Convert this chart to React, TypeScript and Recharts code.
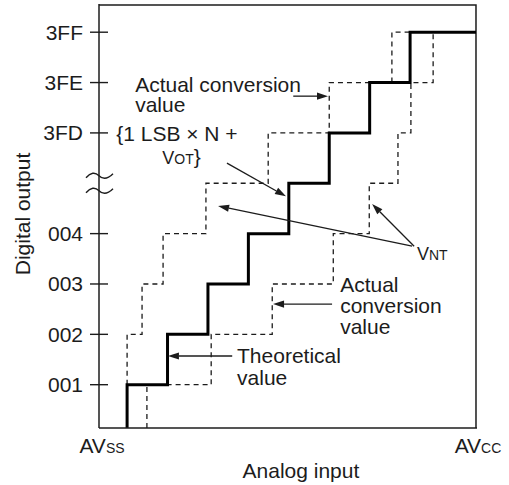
import React from 'react'
import {
  LineChart, Line, XAxis, YAxis, ReferenceLine, ReferenceDot,
} from 'recharts'

// axis domains (analog input in LSB steps, digital output in code steps),
// a hair wider than the frame so the frame edges sit inside the plot
const xDomain = [0.305, 9.655]
const yDomain = [0.14, 8.56]
const breakLevel = 5

// frame box edges
const frameRight = 9.63
const frameTop = 8.54

// y axis codes
const codeLevels = [1, 2, 3, 4, 6, 7, 8]
const codeLabels = ['001', '002', '003', '004', '3FD', '3FE', '3FF']

// x axis end labels
const inputTicks = [0.33, 9.63]
const inputMain = ['AV', 'AV']
const inputSub = ['SS', 'CC']

// theoretical transfer curve (solid)
const theoreticalX = [1, 1, 2, 3, 4, 5, 6, 7, 8, 9.63]
const theoreticalY = [0.14, 1, 2, 3, 4, 5, 6, 7, 8, 8]

// actual conversion, early side (dashed, upper left)
const earlyX = [1, 1, 1.37, 1.89, 2.95, 4.49, 6.0, 7.55, 8.0]
const earlyY = [1, 2, 3, 4, 5, 6, 7, 8, 8]

// actual conversion, late side (dashed, lower right)
const lateX = [1.49, 1.49, 3.08, 4.59, 6.1, 6.99, 7.7, 8.02, 8.57]
const lateY = [0.14, 1, 2, 3, 4, 5, 6, 7, 8]

// top and right edges of the frame (left/bottom are the axis lines)
const frameX = [xDomain[0], frameRight, frameRight]
const frameY = [frameTop, frameTop, yDomain[0]]

const FONT = '"Liberation Sans", Arial, Helvetica, sans-serif'
const INK = '#1c1c1c'
const FS = 21
const SUB = 14
const frameLine = { stroke: INK, strokeWidth: 1.5 }

type Part = { t: string; size?: number }
type Note = {
  x: number; y: number; parts: Part[]
  anchor?: 'start' | 'middle' | 'end'; central?: boolean; rotate?: boolean
}

// annotation texts, placed in data units
const notes: Note[] = [
  { x: 1.2, y: 6.82, parts: [{ t: 'Actual conversion' }] },
  { x: 1.2, y: 6.41, parts: [{ t: 'value' }] },
  { x: 0.73, y: 5.83, parts: [{ t: '{1 LSB × N +' }] },
  { x: 1.87, y: 5.38, parts: [{ t: 'V', size: 18 }, { t: 'OT', size: SUB }, { t: '}' }] },
  { x: 8.17, y: 3.47, parts: [{ t: 'V', size: 18 }, { t: 'NT', size: SUB }] },
  { x: 6.27, y: 2.84, parts: [{ t: 'Actual' }] },
  { x: 6.27, y: 2.42, parts: [{ t: 'conversion' }] },
  { x: 6.27, y: 2.0, parts: [{ t: 'value' }] },
  { x: 3.72, y: 1.44, parts: [{ t: 'Theoretical' }] },
  { x: 3.72, y: 1.0, parts: [{ t: 'value' }] },
  { x: 5.3, y: -0.7, parts: [{ t: 'Analog input' }], anchor: 'middle', central: true },
  { x: -1.6, y: 4.39, parts: [{ t: 'Digital output' }], anchor: 'middle', central: true, rotate: true },
]

// arrows: from text to the curve
const arrows = [
  { x1: 5.11, y1: 6.73, x2: 5.97, y2: 6.73 },
  { x1: 3.47, y1: 5.4, x2: 4.93, y2: 4.74 },
  { x1: 8.05, y1: 3.75, x2: 3.25, y2: 4.55 },
  { x1: 8.1, y1: 3.75, x2: 7.06, y2: 4.59 },
  { x1: 6.07, y1: 2.6, x2: 4.61, y2: 2.6 },
  { x1: 3.6, y1: 1.57, x2: 2.01, y2: 1.57 },
]

const zip = (xs: number[], ys: number[]) => xs.map((x, i) => ({ x, y: ys[i] }))
const theoretical = zip(theoreticalX, theoreticalY)
const early = zip(earlyX, earlyY)
const late = zip(lateX, lateY)
const frame = zip(frameX, frameY)

function CodeTick(props: any) {
  const { x, y, payload } = props
  const label = codeLabels[codeLevels.indexOf(payload.value)]
  return (
    <g>
      <line x1={x + 7} x2={x + 25} y1={y} y2={y} stroke={INK} strokeWidth={1.4} />
      <text x={x} y={y} textAnchor="end" dominantBaseline="central"
        fontFamily={FONT} fontSize={FS} fill={INK}>{label}</text>
    </g>
  )
}

function InputTick(props: any) {
  const { x, y, index } = props
  return (
    <text x={x + 2} y={y + 8} textAnchor="middle"
      fontFamily={FONT} fontSize={FS} fill={INK}>
      {inputMain[index]}<tspan fontSize={SUB}>{inputSub[index]}</tspan>
    </text>
  )
}

function Arrow(p: any) {
  const { x1, y1, x2, y2 } = p
  const dx = x2 - x1, dy = y2 - y1
  const len = Math.hypot(dx, dy) || 1
  const ux = dx / len, uy = dy / len
  const hl = 11, hw = 3.6
  const bx = x2 - ux * hl, by = y2 - uy * hl
  return (
    <g>
      <line x1={x1} y1={y1} x2={bx} y2={by} stroke={INK} strokeWidth={1.3} />
      <polygon
        points={`${x2},${y2} ${bx - uy * hw},${by + ux * hw} ${bx + uy * hw},${by - ux * hw}`}
        fill={INK}
      />
    </g>
  )
}

function noteShape(n: Note) {
  return (p: any) => (
    <text
      x={p.cx} y={p.cy}
      textAnchor={n.anchor ?? 'start'}
      dominantBaseline={n.central ? 'central' : 'alphabetic'}
      transform={n.rotate ? `rotate(-90 ${p.cx} ${p.cy})` : undefined}
      fontFamily={FONT} fontSize={FS} fill={INK}
    >
      {n.parts.map((pt, i) => <tspan key={i} fontSize={pt.size ?? FS}>{pt.t}</tspan>)}
    </text>
  )
}

// axis break mark (two tildes across the y axis)
function BreakMark(p: any) {
  const { cx, cy } = p
  const wave = (oy: number) =>
    `M${cx - 13},${cy + oy + 2} Q${cx - 6},${cy + oy - 6} ${cx},${cy + oy} T${cx + 14},${cy + oy - 2}`
  return (
    <g fill="none" stroke={INK} strokeWidth={1.4}>
      <path d={wave(-7.5)} />
      <path d={wave(7.5)} />
    </g>
  )
}

export default function App() {
  return (
    <div style={{ position: 'absolute', left: 0, top: 0, background: '#fff' }}>
      <LineChart width={509} height={485} margin={{ top: 4, right: 32, bottom: 0, left: 0 }}>
        <XAxis
          type="number" dataKey="x" domain={xDomain} allowDataOverflow
          ticks={inputTicks} interval={0} axisLine={frameLine} tickLine={false}
          tickSize={0} tickMargin={17} height={57} tick={<InputTick />}
        />
        <YAxis
          type="number" domain={yDomain} allowDataOverflow
          ticks={codeLevels} interval={0} axisLine={frameLine} tickLine={false}
          tickSize={10} tickMargin={6} width={99} tick={<CodeTick />}
        />
        <Line
          data={frame} dataKey="y" type="linear" stroke={INK} strokeWidth={1.5}
          dot={false} isAnimationActive={false}
        />
        <Line
          data={early} dataKey="y" type="stepAfter" stroke={INK} strokeWidth={1.3}
          strokeDasharray="5 4" dot={false} isAnimationActive={false}
        />
        <Line
          data={late} dataKey="y" type="stepAfter" stroke={INK} strokeWidth={1.3}
          strokeDasharray="5 4" dot={false} isAnimationActive={false}
        />
        <Line
          data={theoretical} dataKey="y" type="stepAfter" stroke="#000" strokeWidth={3}
          dot={false} isAnimationActive={false}
        />
        <ReferenceDot x={xDomain[0]} y={breakLevel} r={0} ifOverflow="visible" shape={BreakMark} />
        {arrows.map((a, i) => (
          <ReferenceLine
            key={'a' + i}
            segment={[{ x: a.x1, y: a.y1 }, { x: a.x2, y: a.y2 }]}
            ifOverflow="visible"
            shape={Arrow}
          />
        ))}
        {notes.map((n, i) => (
          <ReferenceDot key={'n' + i} x={n.x} y={n.y} r={0} ifOverflow="visible" shape={noteShape(n)} />
        ))}
      </LineChart>
    </div>
  )
}
